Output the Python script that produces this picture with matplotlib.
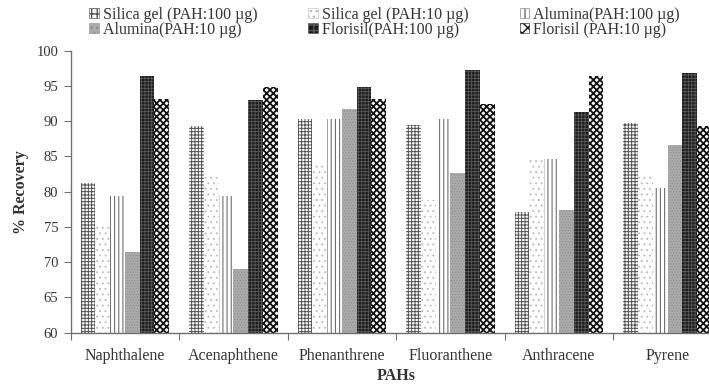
import numpy as np
import matplotlib
matplotlib.use("Agg")
import matplotlib.pyplot as plt
from matplotlib.patches import Patch

plt.rcParams['font.family'] = ['Liberation Serif', 'DejaVu Serif']

compounds = ["Naphthalene", "Acenaphthene", "Phenanthrene", "Fluoranthene",
             "Anthracene", "Pyrene"]

series_names = ["Silica gel (PAH:100 \u00b5g)", "Silica gel (PAH:10 \u00b5g)",
                "Alumina(PAH:100 \u00b5g)", "Alumina(PAH:10 \u00b5g)",
                "Florisil(PAH:100 \u00b5g)", "Florisil (PAH:10 \u00b5g)"]

silica_100 = [81.3, 89.3, 90.3, 89.5, 77.1, 89.8]
silica_10 = [75.2, 82.1, 84.0, 78.8, 84.6, 82.6]
alumina_100 = [79.4, 79.4, 90.3, 90.3, 84.6, 80.5]
alumina_10 = [71.5, 69.1, 91.7, 82.6, 77.4, 86.6]
florisil_100 = [96.4, 93.0, 94.8, 97.3, 91.3, 96.9]
florisil_10 = [93.1, 94.8, 93.2, 92.5, 96.4, 89.3]

series = [silica_100, silica_10, alumina_100, alumina_10, florisil_100, florisil_10]

# fill / hatch styling per series
styles = [
    dict(facecolor="white", edgecolor="#505050", hatch="+++++", hlw=0.7),
    dict(facecolor="white", edgecolor="#b8b8b8", hatch="...", hlw=0.6),
    dict(facecolor="white", edgecolor="#707070", hatch="||||", hlw=0.8),
    dict(facecolor="#ababab", edgecolor="#8c8c8c", hatch="......", hlw=0.5),
    dict(facecolor="#1c1c1c", edgecolor="#5a5a5a", hatch="+++++", hlw=0.6),
    dict(facecolor="white", edgecolor="#111111", hatch="xxxxx", hlw=1.3),
]

fig = plt.figure(figsize=(7.09, 3.84), dpi=100)
ax = fig.add_axes([0.0997, 0.1336, 0.9183, 0.7344])

x = np.arange(len(compounds))
w = 0.136
handles = []
for i, (vals, st) in enumerate(zip(series, styles)):
    with plt.rc_context({'hatch.linewidth': st['hlw']}):
        ax.bar(x + (i - 2.5) * w, vals, width=w, bottom=0,
               facecolor=st['facecolor'], edgecolor=st['edgecolor'],
               hatch=st['hatch'], linewidth=0)
        h = Patch(facecolor=st['facecolor'], edgecolor=st['edgecolor'],
                  hatch=st['hatch'][:3], linewidth=0.4, label=series_names[i])
    handles.append(h)

ax.set_ylim(60, 100)
ax.set_xlim(-0.5, 5.5)
ax.set_yticks(np.arange(60, 101, 5))
ax.tick_params(axis='y', labelsize=10.5, length=5, color='#707070',
               labelcolor='#333333', pad=4)

ax.set_xticks(np.arange(-0.5, 6.0, 1.0))
ax.set_xticklabels([])
ax.set_xticks(x, minor=True)
ax.set_xticklabels(compounds, minor=True, fontsize=11.5, color='#333333')
ax.tick_params(axis='x', which='major', length=5, color='#707070')
ax.tick_params(axis='x', which='minor', length=0, pad=11)

for s in ['top', 'right']:
    ax.spines[s].set_visible(False)
for s in ['left', 'bottom']:
    ax.spines[s].set_color('#707070')
    ax.spines[s].set_linewidth(1.0)

ax.set_ylabel("% Recovery", fontsize=11.5, fontweight='bold', color='#333333',
              labelpad=5)
ax.set_xlabel("PAHs", fontsize=11.5, fontweight='bold', color='#333333',
              labelpad=3)

# legend laid out row by row across three columns
order = [0, 3, 1, 4, 2, 5]
fig.legend([handles[k] for k in order], [series_names[k] for k in order],
           ncol=3, loc='upper left', bbox_to_anchor=(0.11, 1.012),
           frameon=False, fontsize=11.5, handlelength=0.6, handleheight=0.6,
           handletextpad=0.25, columnspacing=3.2, labelspacing=-0.05,
           borderpad=0.2, labelcolor='#333333')

fig.savefig("out.png", dpi=100)
